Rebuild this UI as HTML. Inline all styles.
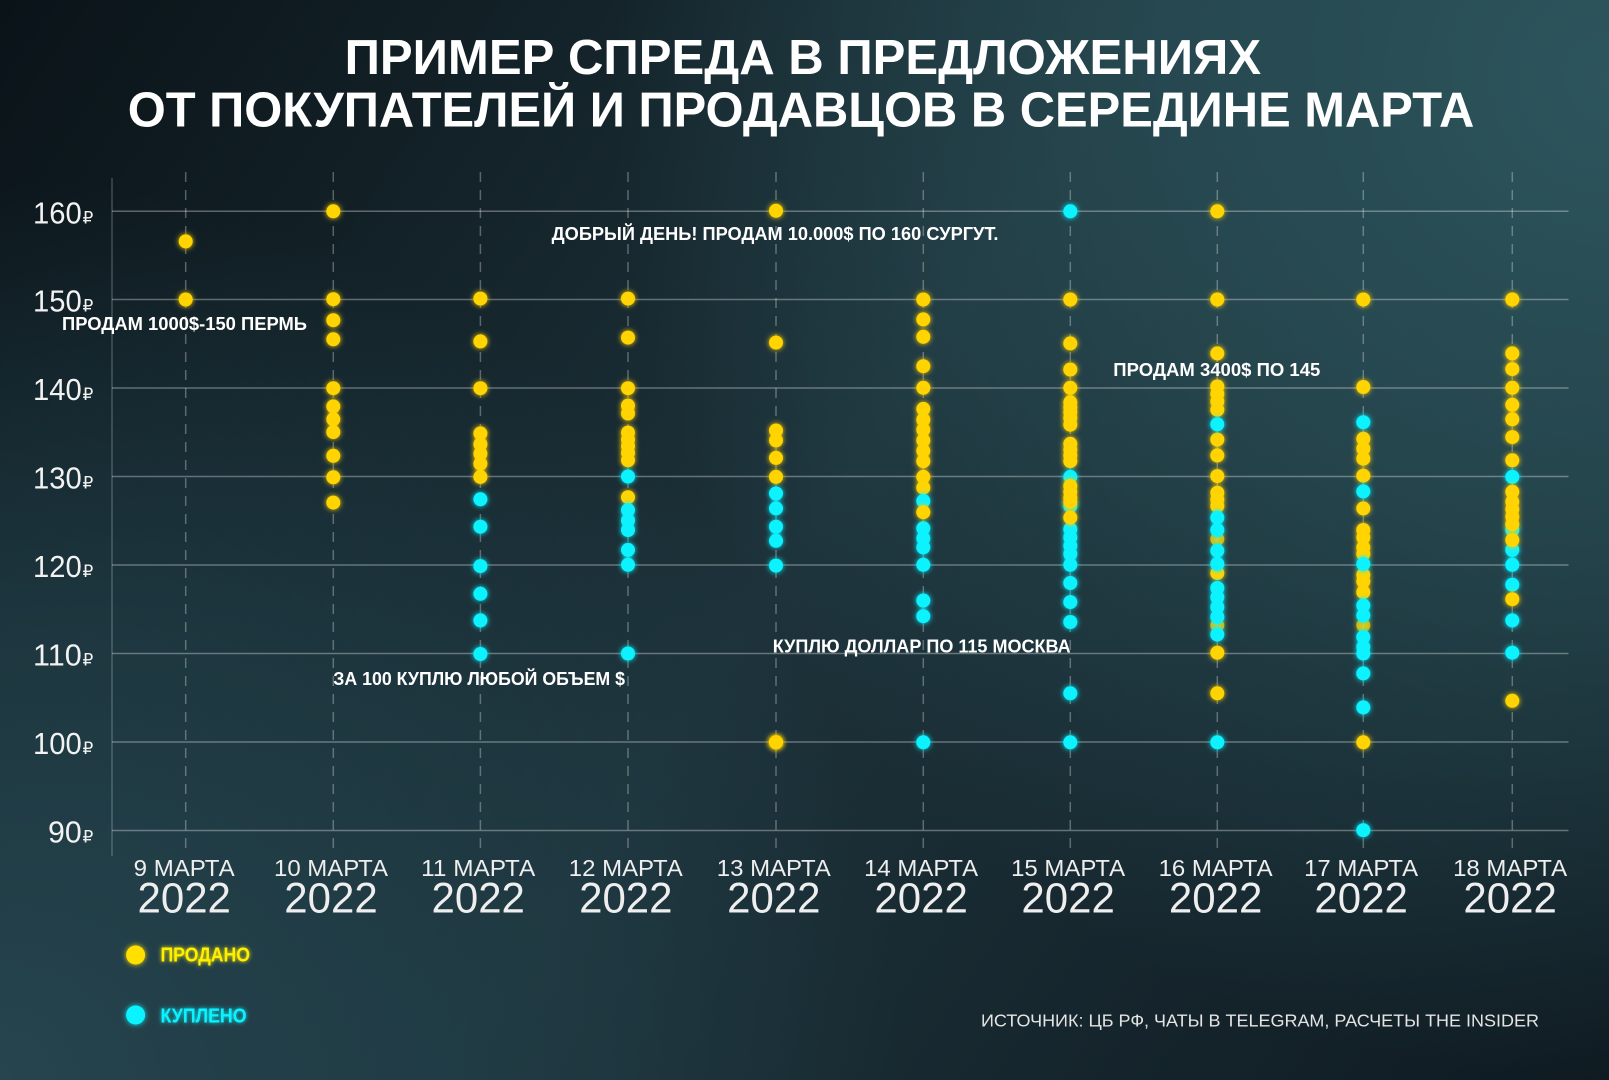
<!DOCTYPE html>
<html>
<head>
<meta charset="utf-8">
<style>
html,body{margin:0;padding:0;background:#111d24;}
svg{display:block;}
text{font-family:"Liberation Sans","DejaVu Sans",sans-serif;}
</style>
</head>
<body>
<svg width="1609" height="1080" viewBox="0 0 1609 1080" xmlns="http://www.w3.org/2000/svg">
<defs>
  <linearGradient id="bg" x1="0" y1="0" x2="1609" y2="1080" gradientUnits="userSpaceOnUse">
    <stop offset="0" stop-color="#0a1318"/>
    <stop offset="0.5" stop-color="#1d323a"/>
    <stop offset="1" stop-color="#0f1a21"/>
  </linearGradient>
  <radialGradient id="gTR" cx="1609" cy="80" r="1000" gradientUnits="userSpaceOnUse">
    <stop offset="0" stop-color="#2d555d" stop-opacity="1"/>
    <stop offset="0.45" stop-color="#2a4f57" stop-opacity="0.75"/>
    <stop offset="1" stop-color="#2a4f57" stop-opacity="0"/>
  </radialGradient>
  <radialGradient id="gBL" cx="0" cy="1080" r="900" gradientUnits="userSpaceOnUse">
    <stop offset="0" stop-color="#26454f" stop-opacity="1"/>
    <stop offset="0.5" stop-color="#22404a" stop-opacity="0.7"/>
    <stop offset="1" stop-color="#22404a" stop-opacity="0"/>
  </radialGradient>
  <filter id="glow" x="-50%" y="-50%" width="200%" height="200%">
    <feGaussianBlur in="SourceGraphic" stdDeviation="2.6" result="b"/>
    <feMerge><feMergeNode in="b"/><feMergeNode in="SourceGraphic"/></feMerge>
  </filter>
  <filter id="tglow" x="-20%" y="-50%" width="140%" height="200%">
    <feGaussianBlur in="SourceGraphic" stdDeviation="2" result="b"/>
    <feMerge><feMergeNode in="b"/><feMergeNode in="SourceGraphic"/></feMerge>
  </filter>
</defs>

<rect width="1609" height="1080" fill="url(#bg)"/>
<rect width="1609" height="1080" fill="url(#gTR)"/>
<rect width="1609" height="1080" fill="url(#gBL)"/>

<!-- Title -->
<text x="344.6" y="74" font-size="49" font-weight="bold" fill="#ffffff" textLength="916.5" lengthAdjust="spacingAndGlyphs">ПРИМЕР СПРЕДА В ПРЕДЛОЖЕНИЯХ</text>
<text x="127.7" y="126.5" font-size="49" font-weight="bold" fill="#ffffff" textLength="1346.6" lengthAdjust="spacingAndGlyphs">ОТ ПОКУПАТЕЛЕЙ И ПРОДАВЦОВ В СЕРЕДИНЕ МАРТА</text>

<!-- Axis line -->
<line x1="112" y1="178" x2="112" y2="856" stroke="rgba(255,255,255,0.22)" stroke-width="1.5"/>

<!-- Vertical dashed lines -->
<g stroke="rgba(255,255,255,0.3)" stroke-width="1.5" stroke-dasharray="10 8">
  <line x1="185.7" y1="172" x2="185.7" y2="856"/>
  <line x1="333.3" y1="172" x2="333.3" y2="856"/>
  <line x1="480.4" y1="172" x2="480.4" y2="856"/>
  <line x1="628" y1="172" x2="628" y2="856"/>
  <line x1="776" y1="172" x2="776" y2="856"/>
  <line x1="923.3" y1="172" x2="923.3" y2="856"/>
  <line x1="1070.3" y1="172" x2="1070.3" y2="856"/>
  <line x1="1217.3" y1="172" x2="1217.3" y2="856"/>
  <line x1="1363.3" y1="172" x2="1363.3" y2="856"/>
  <line x1="1512.3" y1="172" x2="1512.3" y2="856"/>
</g>

<!-- Horizontal grid -->
<g stroke="rgba(255,255,255,0.33)" stroke-width="1.5">
  <line x1="112" y1="211.3" x2="1568.5" y2="211.3"/>
  <line x1="112" y1="299.5" x2="1568.5" y2="299.5"/>
  <line x1="112" y1="388" x2="1568.5" y2="388"/>
  <line x1="112" y1="476.5" x2="1568.5" y2="476.5"/>
  <line x1="112" y1="565" x2="1568.5" y2="565"/>
  <line x1="112" y1="653.5" x2="1568.5" y2="653.5"/>
  <line x1="112" y1="742" x2="1568.5" y2="742"/>
  <line x1="112" y1="830.5" x2="1568.5" y2="830.5"/>
</g>

<!-- Y labels -->
<g fill="#f2f2f2" font-size="31">
  <text x="33" y="223.3" textLength="48.7" lengthAdjust="spacingAndGlyphs">160</text>
  <text x="33" y="311.5" textLength="48.7" lengthAdjust="spacingAndGlyphs">150</text>
  <text x="33" y="400" textLength="48.7" lengthAdjust="spacingAndGlyphs">140</text>
  <text x="33" y="488.5" textLength="48.7" lengthAdjust="spacingAndGlyphs">130</text>
  <text x="33" y="577" textLength="48.7" lengthAdjust="spacingAndGlyphs">120</text>
  <text x="33" y="665.5" textLength="48.7" lengthAdjust="spacingAndGlyphs">110</text>
  <text x="33" y="754" textLength="48.7" lengthAdjust="spacingAndGlyphs">100</text>
  <text x="48" y="842.5" textLength="33.7" lengthAdjust="spacingAndGlyphs">90</text>
</g>
<g fill="#f2f2f2" font-size="17">
  <text x="82.5" y="223.3">₽</text>
  <text x="82.5" y="311.5">₽</text>
  <text x="82.5" y="400">₽</text>
  <text x="82.5" y="488.5">₽</text>
  <text x="82.5" y="577">₽</text>
  <text x="82.5" y="665.5">₽</text>
  <text x="82.5" y="754">₽</text>
  <text x="82.5" y="842.5">₽</text>
</g>

<!-- X labels -->
<g fill="#eeeeee" font-size="23" text-anchor="middle">
  <text x="184.2" y="876" textLength="101" lengthAdjust="spacingAndGlyphs">9 МАРТА</text>
  <text x="331" y="876" textLength="114" lengthAdjust="spacingAndGlyphs">10 МАРТА</text>
  <text x="478.2" y="876" textLength="114" lengthAdjust="spacingAndGlyphs">11 МАРТА</text>
  <text x="625.8" y="876" textLength="114" lengthAdjust="spacingAndGlyphs">12 МАРТА</text>
  <text x="773.8" y="876" textLength="114" lengthAdjust="spacingAndGlyphs">13 МАРТА</text>
  <text x="921.1" y="876" textLength="114" lengthAdjust="spacingAndGlyphs">14 МАРТА</text>
  <text x="1068.1" y="876" textLength="114" lengthAdjust="spacingAndGlyphs">15 МАРТА</text>
  <text x="1215.6" y="876" textLength="114" lengthAdjust="spacingAndGlyphs">16 МАРТА</text>
  <text x="1361.1" y="876" textLength="114" lengthAdjust="spacingAndGlyphs">17 МАРТА</text>
  <text x="1510.1" y="876" textLength="114" lengthAdjust="spacingAndGlyphs">18 МАРТА</text>
</g>
<g fill="#eeeeee" font-size="42.5" text-anchor="middle">
  <text x="184.2" y="912.7" textLength="93.4" lengthAdjust="spacingAndGlyphs">2022</text>
  <text x="331" y="912.7" textLength="93.4" lengthAdjust="spacingAndGlyphs">2022</text>
  <text x="478.2" y="912.7" textLength="93.4" lengthAdjust="spacingAndGlyphs">2022</text>
  <text x="625.8" y="912.7" textLength="93.4" lengthAdjust="spacingAndGlyphs">2022</text>
  <text x="773.8" y="912.7" textLength="93.4" lengthAdjust="spacingAndGlyphs">2022</text>
  <text x="921.1" y="912.7" textLength="93.4" lengthAdjust="spacingAndGlyphs">2022</text>
  <text x="1068.1" y="912.7" textLength="93.4" lengthAdjust="spacingAndGlyphs">2022</text>
  <text x="1215.6" y="912.7" textLength="93.4" lengthAdjust="spacingAndGlyphs">2022</text>
  <text x="1361.1" y="912.7" textLength="93.4" lengthAdjust="spacingAndGlyphs">2022</text>
  <text x="1510.1" y="912.7" textLength="93.4" lengthAdjust="spacingAndGlyphs">2022</text>
</g>

<!-- Yellow dots (sold) -->
<g fill="#ffd400" filter="url(#glow)">
  <circle cx="185.7" cy="241.4" r="7"/><circle cx="185.7" cy="299.5" r="7"/>
  <circle cx="333.3" cy="211.3" r="7"/><circle cx="333.3" cy="299.2" r="7"/><circle cx="333.3" cy="320.2" r="7"/><circle cx="333.3" cy="339.3" r="7"/><circle cx="333.3" cy="388.2" r="7"/><circle cx="333.3" cy="406.4" r="7"/><circle cx="333.3" cy="419.3" r="7"/><circle cx="333.3" cy="432.1" r="7"/><circle cx="333.3" cy="455.8" r="7"/><circle cx="333.3" cy="477.3" r="7"/><circle cx="333.3" cy="502.6" r="7"/>
  <circle cx="480.4" cy="298.6" r="7"/><circle cx="480.4" cy="341.4" r="7"/><circle cx="480.4" cy="388.2" r="7"/><circle cx="480.4" cy="433.4" r="7"/><circle cx="480.4" cy="444.2" r="7"/><circle cx="480.4" cy="453.7" r="7"/><circle cx="480.4" cy="463.7" r="7"/><circle cx="480.4" cy="476.9" r="7"/>
  <circle cx="628" cy="298.6" r="7"/><circle cx="628" cy="337.6" r="7"/><circle cx="628" cy="388.2" r="7"/><circle cx="628" cy="405.6" r="7"/><circle cx="628" cy="413.5" r="7"/><circle cx="628" cy="432.6" r="7"/><circle cx="628" cy="439.6" r="7"/><circle cx="628" cy="446.2" r="7"/><circle cx="628" cy="452.9" r="7"/><circle cx="628" cy="460.3" r="7"/><circle cx="628" cy="497.2" r="7"/>
  <circle cx="776" cy="210.8" r="7"/><circle cx="776" cy="342.6" r="7"/><circle cx="776" cy="430.5" r="7"/><circle cx="776" cy="440.4" r="7"/><circle cx="776" cy="457.9" r="7"/><circle cx="776" cy="476.9" r="7"/><circle cx="776" cy="742.3" r="7"/>
  <circle cx="923.3" cy="299.5" r="7"/><circle cx="923.3" cy="319.4" r="7"/><circle cx="923.3" cy="336.8" r="7"/><circle cx="923.3" cy="366.2" r="7"/><circle cx="923.3" cy="387.8" r="7"/><circle cx="923.3" cy="408.9" r="7"/><circle cx="923.3" cy="419.7" r="7"/><circle cx="923.3" cy="429.7" r="7"/><circle cx="923.3" cy="440.4" r="7"/><circle cx="923.3" cy="450.8" r="7"/><circle cx="923.3" cy="461.2" r="7"/><circle cx="923.3" cy="476.9" r="7"/><circle cx="923.3" cy="487.7" r="7"/>
  <circle cx="1070.3" cy="299.5" r="7"/><circle cx="1070.3" cy="343.4" r="7"/><circle cx="1070.3" cy="369.5" r="7"/><circle cx="1070.3" cy="387.8" r="7"/><circle cx="1070.3" cy="402.3" r="7"/><circle cx="1070.3" cy="407.3" r="7"/><circle cx="1070.3" cy="412.2" r="7"/><circle cx="1070.3" cy="418" r="7"/><circle cx="1070.3" cy="424.7" r="7"/><circle cx="1070.3" cy="443.8" r="7"/><circle cx="1070.3" cy="449.6" r="7"/><circle cx="1070.3" cy="455.4" r="7"/><circle cx="1070.3" cy="461.2" r="7"/>
  <circle cx="1217.3" cy="211.3" r="7"/><circle cx="1217.3" cy="299.5" r="7"/><circle cx="1217.3" cy="353.4" r="7"/><circle cx="1217.3" cy="386.5" r="7"/><circle cx="1217.3" cy="394" r="7"/><circle cx="1217.3" cy="401.5" r="7"/><circle cx="1217.3" cy="409.8" r="7"/><circle cx="1217.3" cy="439.6" r="7"/><circle cx="1217.3" cy="455.4" r="7"/><circle cx="1217.3" cy="476.1" r="7"/><circle cx="1217.3" cy="492.7" r="7"/><circle cx="1217.3" cy="499.7" r="7"/><circle cx="1217.3" cy="506" r="7"/><circle cx="1217.3" cy="539.1" r="7" opacity="0.7"/><circle cx="1217.3" cy="573.1" r="7"/><circle cx="1217.3" cy="625.3" r="7" opacity="0.7"/><circle cx="1217.3" cy="652.7" r="7"/><circle cx="1217.3" cy="693.3" r="7"/>
  <circle cx="1363.3" cy="299.5" r="7"/><circle cx="1363.3" cy="387" r="7"/><circle cx="1363.3" cy="438.8" r="7"/><circle cx="1363.3" cy="448.7" r="7"/><circle cx="1363.3" cy="458.7" r="7"/><circle cx="1363.3" cy="475.7" r="7"/><circle cx="1363.3" cy="508.4" r="7"/><circle cx="1363.3" cy="530" r="7"/><circle cx="1363.3" cy="537.5" r="7"/><circle cx="1363.3" cy="547.4" r="7"/><circle cx="1363.3" cy="554" r="7"/><circle cx="1363.3" cy="574.8" r="7"/><circle cx="1363.3" cy="581.4" r="7"/><circle cx="1363.3" cy="592.2" r="7"/><circle cx="1363.3" cy="625.3" r="7" opacity="0.7"/><circle cx="1363.3" cy="742.3" r="7"/>
  <circle cx="1512.3" cy="299.5" r="7"/><circle cx="1512.3" cy="353.4" r="7"/><circle cx="1512.3" cy="369.1" r="7"/><circle cx="1512.3" cy="387.8" r="7"/><circle cx="1512.3" cy="404.8" r="7"/><circle cx="1512.3" cy="419.3" r="7"/><circle cx="1512.3" cy="437.1" r="7"/><circle cx="1512.3" cy="460.3" r="7"/>
</g>

<!-- Cyan dots (bought) -->
<g fill="#10f2ff" filter="url(#glow)">
  <circle cx="480.4" cy="499.3" r="7"/><circle cx="480.4" cy="526.7" r="7"/><circle cx="480.4" cy="566.1" r="7"/><circle cx="480.4" cy="593.8" r="7"/><circle cx="480.4" cy="620.4" r="7"/><circle cx="480.4" cy="654" r="7"/>
  <circle cx="628" cy="476.5" r="7"/><circle cx="628" cy="510.1" r="7"/><circle cx="628" cy="520.5" r="7"/><circle cx="628" cy="530" r="7"/><circle cx="628" cy="549.9" r="7"/><circle cx="628" cy="564.8" r="7"/><circle cx="628" cy="653.5" r="7"/>
  <circle cx="776" cy="493.5" r="7"/><circle cx="776" cy="508.4" r="7"/><circle cx="776" cy="526.7" r="7"/><circle cx="776" cy="540.8" r="7"/><circle cx="776" cy="565.6" r="7"/>
  <circle cx="923.3" cy="501" r="7"/><circle cx="923.3" cy="528.3" r="7"/><circle cx="923.3" cy="538.3" r="7"/><circle cx="923.3" cy="547.4" r="7"/><circle cx="923.3" cy="564.8" r="7"/><circle cx="923.3" cy="600.5" r="7"/><circle cx="923.3" cy="616.2" r="7"/><circle cx="923.3" cy="742.3" r="7"/>
  <circle cx="1070.3" cy="211.3" r="7"/><circle cx="1070.3" cy="476.9" r="7"/><circle cx="1070.3" cy="506" r="7"/><circle cx="1070.3" cy="529.2" r="7"/><circle cx="1070.3" cy="537.5" r="7"/><circle cx="1070.3" cy="545.8" r="7"/><circle cx="1070.3" cy="554" r="7"/><circle cx="1070.3" cy="564.8" r="7"/><circle cx="1070.3" cy="583" r="7"/><circle cx="1070.3" cy="602.1" r="7"/><circle cx="1070.3" cy="622" r="7"/><circle cx="1070.3" cy="693.3" r="7"/><circle cx="1070.3" cy="742.3" r="7"/>
  <circle cx="1217.3" cy="424.3" r="7"/><circle cx="1217.3" cy="517.6" r="7"/><circle cx="1217.3" cy="530" r="7"/><circle cx="1217.3" cy="550.7" r="7"/><circle cx="1217.3" cy="564" r="7"/><circle cx="1217.3" cy="588" r="7"/><circle cx="1217.3" cy="597.2" r="7"/><circle cx="1217.3" cy="607.1" r="7"/><circle cx="1217.3" cy="617" r="7"/><circle cx="1217.3" cy="634.5" r="7"/><circle cx="1217.3" cy="742.3" r="7"/>
  <circle cx="1363.3" cy="422.2" r="7"/><circle cx="1363.3" cy="491.4" r="7"/><circle cx="1363.3" cy="564" r="7"/><circle cx="1363.3" cy="605.4" r="7"/><circle cx="1363.3" cy="615.4" r="7"/><circle cx="1363.3" cy="637" r="7"/><circle cx="1363.3" cy="646.9" r="7"/><circle cx="1363.3" cy="653.5" r="7"/><circle cx="1363.3" cy="673.4" r="7"/><circle cx="1363.3" cy="707.4" r="7"/><circle cx="1363.3" cy="830.2" r="7"/>
  <circle cx="1512.3" cy="476.9" r="7"/><circle cx="1512.3" cy="530" r="7"/><circle cx="1512.3" cy="549.9" r="7"/><circle cx="1512.3" cy="564.8" r="7"/><circle cx="1512.3" cy="584.7" r="7"/><circle cx="1512.3" cy="620.4" r="7"/><circle cx="1512.3" cy="652.7" r="7"/>
</g>

<!-- Yellow dots drawn on top of cyan -->
<g fill="#ffd400" filter="url(#glow)">
  <circle cx="776" cy="742.3" r="7"/>
  <circle cx="923.3" cy="512.2" r="7"/>
  <circle cx="1070.3" cy="486" r="7"/><circle cx="1070.3" cy="491.8" r="7"/><circle cx="1070.3" cy="497.7" r="7"/><circle cx="1070.3" cy="501.8" r="7"/><circle cx="1070.3" cy="517.6" r="7"/>
  <circle cx="1512.3" cy="491.8" r="7"/><circle cx="1512.3" cy="501.8" r="7"/><circle cx="1512.3" cy="509.3" r="7"/><circle cx="1512.3" cy="516.7" r="7"/><circle cx="1512.3" cy="524.2" r="7"/><circle cx="1512.3" cy="540" r="7"/><circle cx="1512.3" cy="599.2" r="7"/><circle cx="1512.3" cy="700.8" r="7"/>
</g>

<!-- Annotations -->
<g fill="#ffffff" font-size="18" font-weight="bold">
  <text x="62" y="330" textLength="245" lengthAdjust="spacingAndGlyphs">ПРОДАМ 1000$-150 ПЕРМЬ</text>
  <text x="551.7" y="239.8" textLength="446.8" lengthAdjust="spacingAndGlyphs">ДОБРЫЙ ДЕНЬ! ПРОДАМ 10.000$ ПО 160 СУРГУТ.</text>
  <text x="1113.3" y="376.2" textLength="207" lengthAdjust="spacingAndGlyphs">ПРОДАМ 3400$ ПО 145</text>
  <text x="772.7" y="652.3" textLength="298" lengthAdjust="spacingAndGlyphs">КУПЛЮ ДОЛЛАР ПО 115 МОСКВА</text>
  <text x="333.3" y="685" textLength="291.7" lengthAdjust="spacingAndGlyphs">ЗА 100 КУПЛЮ ЛЮБОЙ ОБЪЕМ $</text>
</g>

<!-- Legend -->
<circle cx="135.6" cy="955" r="9.5" fill="#ffe000" filter="url(#glow)"/>
<circle cx="135.6" cy="1015" r="9.5" fill="#10f2ff" filter="url(#glow)"/>
<text x="160.5" y="961.7" font-size="20" font-weight="bold" fill="#fff000" filter="url(#tglow)" textLength="89.5" lengthAdjust="spacingAndGlyphs">ПРОДАНО</text>
<text x="160.5" y="1022.3" font-size="20" font-weight="bold" fill="#10f2ff" filter="url(#tglow)" textLength="86.1" lengthAdjust="spacingAndGlyphs">КУПЛЕНО</text>

<!-- Source -->
<text x="981" y="1026.7" font-size="17.5" fill="#e4e4e4" textLength="558" lengthAdjust="spacingAndGlyphs">ИСТОЧНИК: ЦБ РФ, ЧАТЫ В TELEGRAM, РАСЧЕТЫ THE INSIDER</text>
</svg>
</body>
</html>
